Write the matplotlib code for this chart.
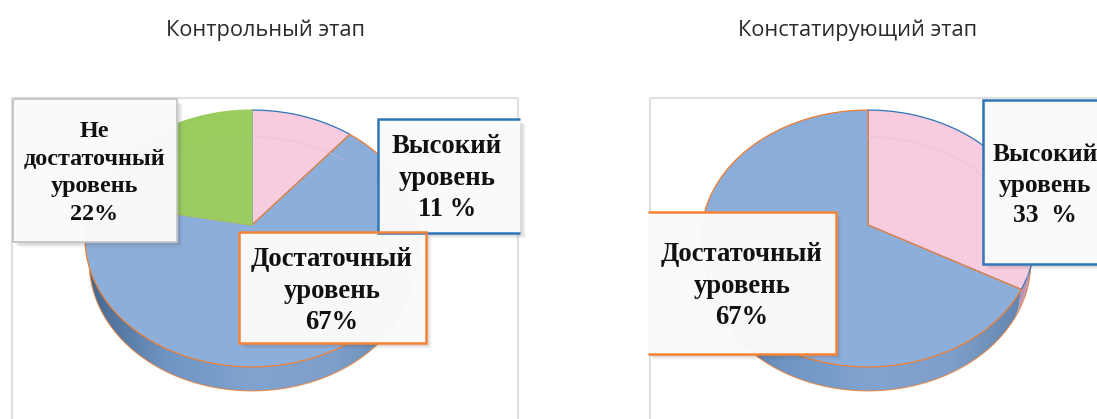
import numpy as np
import matplotlib
matplotlib.use('Agg')
import matplotlib.pyplot as plt
from matplotlib.colors import LinearSegmentedColormap
from matplotlib.patches import Polygon, Rectangle

# данные
titles = ['Контрольный этап', 'Констатирующий этап']
left_values = [11, 67, 22]
left_colors = ['#F8CBDF', '#8AADDA', '#9BCC5E']
left_edges = ['#2E75B6', '#ED7D31', '#9BCC5E']
right_values = [33, 67]
right_colors = ['#F8CBDF', '#8AADDA']
right_edges = ['#2E75B6', '#ED7D31']
left_labels = ['Высокий\nуровень\n11 %', 'Достаточный\nуровень\n67%', 'Не\nдостаточный\nуровень\n22%']
right_labels = ['Высокий\nуровень\n33  %', 'Достаточный\nуровень\n67%']

plt.rcParams['font.family'] = ['Liberation Serif', 'DejaVu Serif']

fig = plt.figure(figsize=(10.97, 4.19), dpi=100)
ax = fig.add_axes([0, 0, 1, 1])
ax.set_xlim(0, 1097)
ax.set_ylim(419, 0)
ax.axis('off')

side_cmap = LinearSegmentedColormap.from_list('side', ['#3F6288', '#6C93C3', '#7FA2CF', '#7C9EC9', '#5A7DA6'])
pink_cmap = LinearSegmentedColormap.from_list('pside', ['#C9A0BC', '#B98FB0'])


def rim(t, cx, cy=225):
    # перспектива диска: t - угол по часовой стрелке от верха
    u, v = np.sin(t), np.cos(t)
    w = 1 + 0.105 * v
    return cx + 166 * u / w, cy - 127 * v / w


def draw_pie(values, colors, edges, cx):
    ends = np.cumsum(values) / np.sum(values) * 2 * np.pi
    starts = np.r_[0, ends[:-1]]
    scan = np.linspace(0, 2 * np.pi, 1441)
    sx, _ = rim(scan, cx)
    vis0, vis1 = scan[np.argmax(sx)], scan[np.argmin(sx)]

    # боковая стенка
    for a0, a1, col in zip(starts, ends, colors):
        lo, hi = max(a0, vis0), min(a1, vis1)
        if lo >= hi:
            continue
        t = np.linspace(lo, hi, 150)
        x, y = rim(t, cx)
        x2 = cx + (x - cx) * 0.975
        y2 = y + 24
        poly = Polygon(np.r_[np.c_[x, y], np.c_[x2, y2][::-1]], closed=True, fc='none', ec='none')
        ax.add_patch(poly)
        cmap = pink_cmap if col == '#F8CBDF' else side_cmap
        im = ax.imshow(np.linspace(0, 1, 256)[None, :], cmap=cmap, aspect='auto', zorder=1,
                       extent=(cx - 170, cx + 170, 400, 200))
        im.set_clip_path(poly)
        ax.plot(x2, y2, color='#ED7D31', lw=0.8, zorder=1.5, alpha=0.8)

    # верх диска
    for a0, a1, col, ec in zip(starts, ends, colors, edges):
        t = np.linspace(a0, a1, 300)
        x, y = rim(t, cx)
        ax.fill(np.r_[cx, x], np.r_[225, y], fc=col, ec=ec, lw=0.9, zorder=2, joinstyle='round')

    # блик
    t = np.linspace(0, 2 * np.pi, 300)
    x, y = rim(t, cx)
    ax.fill(x, y + 26, fc='white', alpha=0.02, ec='none', zorder=7)
    arc = t[t < ends[0]]
    ax.plot(cx + (rim(arc, cx)[0] - cx) * 0.96, rim(arc, cx)[1] + 27, color='#E0B8D0', alpha=0.35, lw=0.9, zorder=3)


def label_box(x0, y0, x1, y1, ec, lw=1.8, clip_left=False, clip_right=False):
    for i in range(1, 7):
        ax.add_patch(Rectangle((x0 + 2 + i * 0.6, y0 + 2 + i * 0.6), x1 - x0, y1 - y0, fc='#555555',
                               alpha=0.035, ec='none', zorder=4))
    ax.add_patch(Rectangle((x0, y0), x1 - x0, y1 - y0, fc='#FBFBFB', alpha=0.98, ec='none', zorder=5))
    if clip_left:
        xs, ys = [x0, x1, x1, x0], [y0, y0, y1, y1]
    elif clip_right:
        xs, ys = [x1, x0, x0, x1], [y0, y0, y1, y1]
    else:
        xs, ys = [x0, x1, x1, x0, x0], [y0, y0, y1, y1, y0]
    ax.plot(xs, ys, color=ec, lw=lw, zorder=6, solid_joinstyle='miter', solid_capstyle='butt')


def label_text(x, y, s, size=19.2, spacing=1.36):
    ax.text(x, y, s, fontsize=size, fontweight='bold', color='#111111', ha='center', va='center',
            linespacing=spacing, zorder=8)


# рамки диаграмм
ax.plot([12, 12, 518, 518], [419, 98, 98, 419], color='#E0E0E0', lw=1.6, zorder=0)
ax.plot([650, 650, 1097], [419, 98, 98], color='#E0E0E0', lw=1.6, zorder=0)

draw_pie(left_values, left_colors, left_edges, 252)
draw_pie(right_values, right_colors, right_edges, 868)

label_box(13, 99, 177, 242, '#C4C4C4', lw=1.3)
label_box(378, 119, 520, 233, '#2E75B6', clip_right=True)
label_box(239, 232, 426, 343, '#F58233')
label_box(983, 100, 1100, 264, '#2E75B6', clip_right=True)
label_box(648, 212, 836, 354, '#F58233', clip_left=True)

label_text(94, 173, left_labels[2], size=17.4, spacing=1.41)
label_text(447, 178, left_labels[0])
label_text(332, 291, left_labels[1])
label_text(1045, 185, right_labels[0], size=18.4, spacing=1.42)
label_text(742, 286, right_labels[1])

ax.text(266, 30, titles[0], family='Open Sans', fontsize=15.7, color='#2B2B2B', ha='center', va='center')
ax.text(858, 30, titles[1], family='Open Sans', fontsize=15.7, color='#2B2B2B', ha='center', va='center')

ax.set_xlim(0, 1097)
ax.set_ylim(419, 0)
fig.savefig('out.png', dpi=100)
